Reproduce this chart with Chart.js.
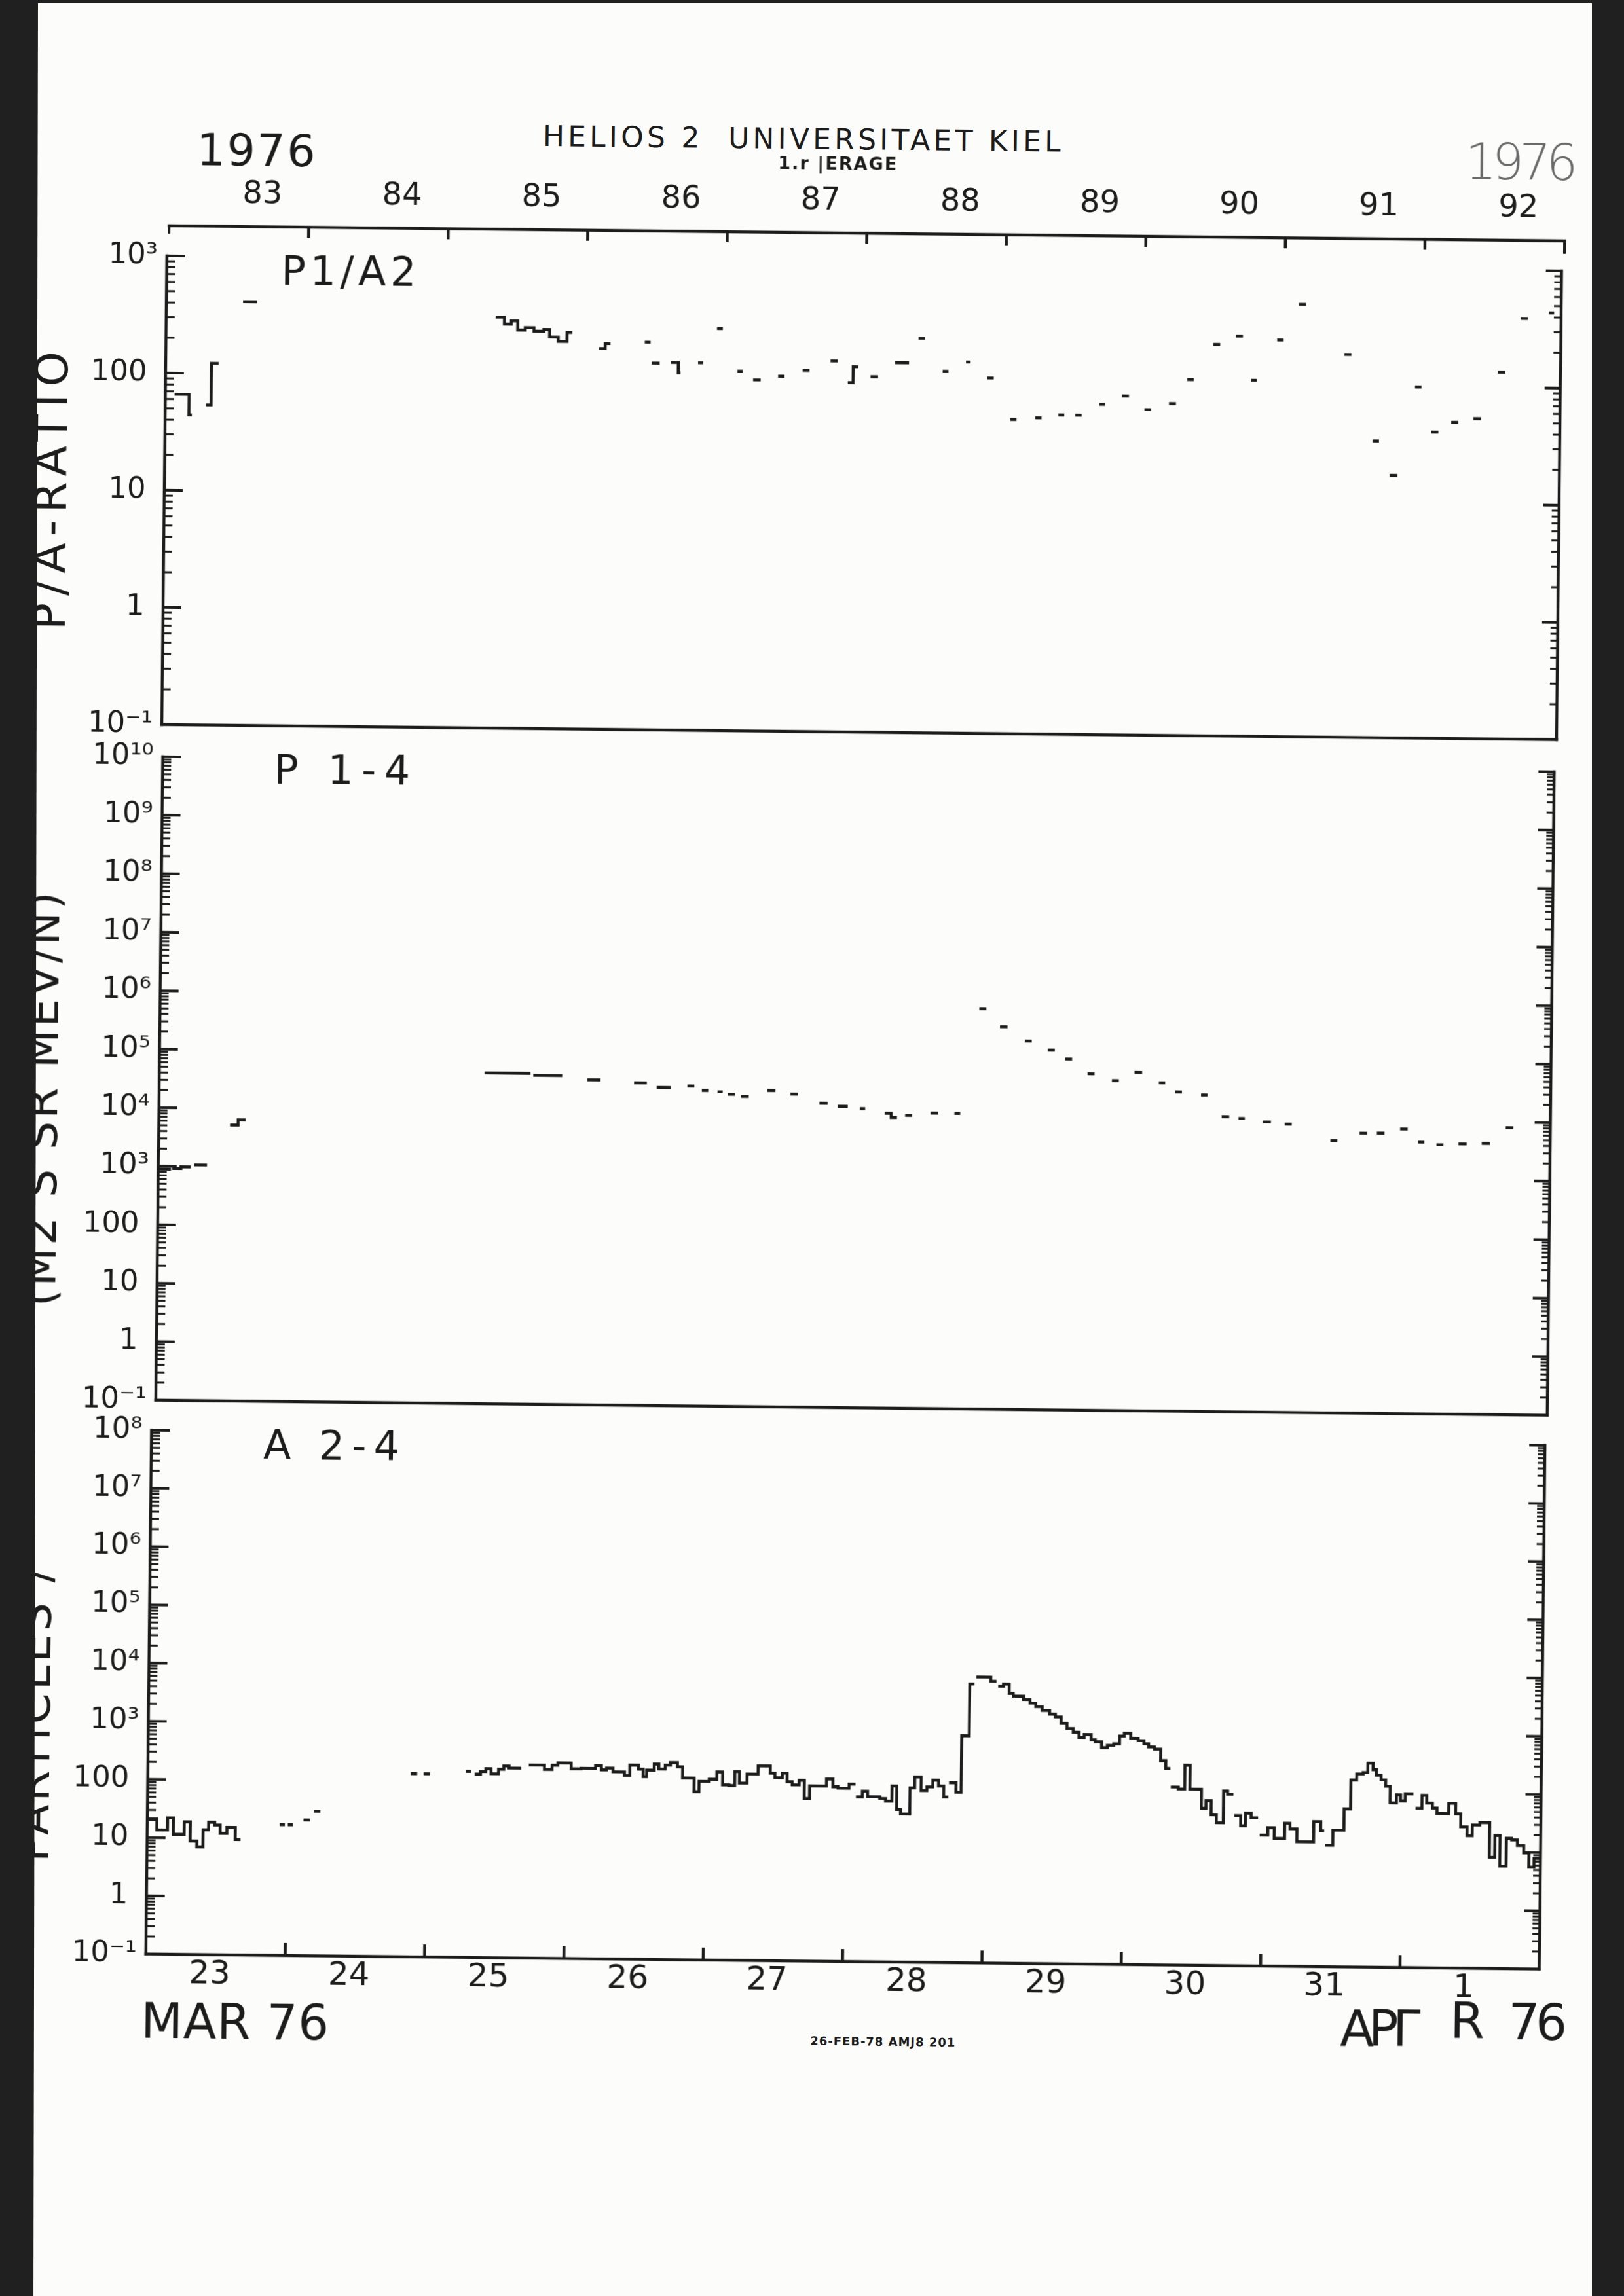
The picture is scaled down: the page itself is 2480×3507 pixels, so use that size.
<!DOCTYPE html>
<html>
<head>
<meta charset="utf-8">
<title>HELIOS 2 - Universitaet Kiel - March/April 1976</title>
<script src="https://cdn.jsdelivr.net/npm/chart.js@4.4.1/dist/chart.umd.min.js"></script>
<style>
  html, body { margin:0; padding:0; width:2480px; height:3507px; overflow:hidden; background:#fcfcfb; }
  #page { position:absolute; left:0; top:0; width:2480px; height:3507px; transform:rotate(0.62deg); transform-origin:0 0; }
  #page canvas { position:absolute; }
  .t { position:absolute; white-space:pre; color:#1c1c1c; }
  .edge { position:absolute; background:#202020; z-index:5; }
</style>
</head>
<body>
<div id="page"></div>
<div class="edge" style="left:0;top:0;width:58px;height:3507px;clip-path:polygon(0 0,100% 0,88% 100%,0 100%)"></div>
<div class="edge" style="left:2431px;top:0;width:49px;height:3507px"></div>
<div class="edge" style="left:0;top:0;width:2480px;height:5px"></div>
<script>
// ---------------- data (time in hours after 23 Mar 1976 00:00 UT) ----------------
const dayLabels = ['23','24','25','26','27','28','29','30','31','1'];
const doyLabels = ['83','84','85','86','87','88','89','90','91','92'];
const dayBoundaries = [24, 48, 72, 96, 120, 144, 168, 192, 216];

const p1Exps = [-1, 0, 1, 2, 3];
const p1TickLabels = ['10\u207B\u00B9', '1', '10', '100', '10\u00B3'];
const p2Exps = [-1, 0, 1, 2, 3, 4, 5, 6, 7, 8, 9, 10];
const p2TickLabels = ['10\u207B\u00B9', '1', '10', '100', '10\u00B3', '10\u2074', '10\u2075', '10\u2076', '10\u2077', '10\u2078', '10\u2079', '10\u00B9\u2070'];
const p3Exps = [-1, 0, 1, 2, 3, 4, 5, 6, 7, 8];
const p3TickLabels = ['10\u207B\u00B9', '1', '10', '100', '10\u00B3', '10\u2074', '10\u2075', '10\u2076', '10\u2077', '10\u2078'];

// P1/A2 ratio: value[i] holds from hour[i] to hour[i+1]; null = no data
const p1Hours = [1.6, 4.1, 4.6, 7.0, 7.9, 9.1, 13.2, 15.6, 56.7, 58.2,
  59.4, 60.5, 61.8, 63.3, 65.0, 66.0, 67.5, 69.0, 69.9, 74.5,
  75.6, 76.5, 82.4, 83.4, 83.6, 85.0, 86.9, 88.2, 88.6, 91.6,
  92.5, 94.8, 95.8, 98.4, 99.3, 101.1, 102.4, 105.4, 106.5, 109.6,
  110.8, 114.4, 115.6, 117.4, 118.3, 119.2, 121.3, 122.6, 125.5, 127.9,
  129.5, 130.6, 133.7, 134.7, 137.7, 138.5, 141.4, 142.5, 145.4, 146.5,
  149.7, 150.8, 153.7, 154.7, 156.6, 157.7, 160.7, 161.7, 164.6, 165.8,
  168.5, 169.6, 172.7, 173.9, 175.8, 176.9, 180.2, 181.4, 184.1, 185.3,
  186.8, 187.8, 191.2, 192.3, 194.9, 196.1, 202.8, 204.0, 207.8, 208.9,
  210.8, 212.1, 215.0, 216.1, 217.9, 219.1, 221.3, 222.5, 225.1, 226.4,
  229.2, 230.5, 233.1, 234.3, 237.9, 238.8];
const p1Ratio = [66, 44, null, 54, 122, null, 413, null, 321, 281,
  300, 251, 263, 246, 255, 220, 202, 242, null, 177,
  196, null, 203, null, 135, null, 137, 112, null, 137,
  null, 269, null, 117, null, 99, null, 107, null, 121,
  null, 146, null, 95.5, 131, null, 108, null, 143, null,
  232, null, 122, null, 147, null, 108, null, 48, null,
  50, null, 53, null, 53, null, 66, null, 78, null,
  60, null, 68, null, 109, null, 219, null, 259, null,
  109, null, 242, null, 490, null, 185, null, 34, null,
  17.4, null, 99, null, 41, null, 50, null, 54, null,
  135, null, 390, null, 438, null];

// P 1-4 flux
const p2Hours = [0, 2.2, 2.4, 3.9, 5.6, 6.2, 8.4, 12.3, 13.7, 15.0,
  56.1, 64.0, 64.5, 69.5, 73.8, 76.1, 81.9, 84.1, 85.8, 88.2,
  91.1, 92.3, 93.6, 94.7, 96.3, 97.2, 98.1, 99.3, 100.4, 101.7,
  104.9, 106.3, 108.9, 110.2, 113.9, 115.3, 117.1, 118.8, 120.9, 121.8,
  125.2, 126.3, 127.3, 128.7, 129.9, 133.1, 134.4, 137.2, 138.2, 141.3,
  142.5, 144.9, 146.2, 149.2, 150.4, 153.2, 154.4, 156.2, 157.4, 160.1,
  161.3, 164.3, 165.5, 168.2, 169.5, 172.4, 173.5, 175.2, 176.4, 179.7,
  180.8, 183.3, 184.6, 186.2, 187.3, 190.4, 191.8, 194.2, 195.4, 202.1,
  203.3, 207.1, 208.4, 210.1, 211.4, 214.1, 215.4, 217.2, 218.3, 220.4,
  221.6, 224.2, 225.6, 228.2, 229.6, 232.3, 233.6];
const p2Flux = [900, null, 920, 980, null, 1070, null, 5200, 6400, null,
  45000, null, 42000, null, 36000, null, 32700, null, 27500, null,
  29400, null, 24700, null, 23600, null, 21600, null, 20000, null,
  25400, null, 22300, null, 15800, null, 14100, null, 13000, null,
  10900, 9300, null, 10200, null, 11200, null, 11200, null, 702000,
  null, 348000, null, 200000, null, 141000, null, 100000, null, 56300,
  null, 43600, null, 60700, null, 40700, null, 28800, null, 25700,
  null, 11100, null, 10400, null, 9140, null, 8440, null, 4550,
  null, 6130, null, 6180, null, 7330, null, 4410, null, 4000,
  null, 4180, null, 4300, null, 8080, null];

// A 2-4 flux
const p3Hours = [0, 1.65, 3.5, 4.53, 6.37, 7.42, 8.57, 9.62, 10.57, 11.62, 12.56, 13.72, 15.18, 16.08,
  22.8, 23.7, 24.2, 25.1, 26.9, 28.0, 28.7, 29.8,
  45.3, 46.4, 47.5, 48.6, 54.8, 55.7,
  56.3, 57.3, 58.2, 59.1, 60.4, 61.3, 62.2, 64.3,
  65.6, 68.3, 69.6, 70.6, 72.9, 74.6, 77.1, 78.1, 79.0, 80.1, 82.1, 83.0, 84.5, 85.3, 85.9, 87.2, 88.0, 89.1, 90.0, 91.2,
  92.1, 94.1, 94.95, 96.7, 98.0, 99.0, 100.1, 101.1, 101.9, 103.2, 105.1, 107.2, 108.0, 109.3, 110.1, 111.0, 112.2, 113.1, 114.0, 116.9, 118.0, 118.9, 120.8, 121.9,
  122.0, 123.1, 124.0, 126.1, 127.1, 128.2, 129.0, 129.7, 131.3, 132.1, 133.2, 134.2, 135.2, 136.2, 137.1, 137.9,
  138.0, 139.2, 140.1, 141.4, 142.2, 142.5, 145.0, 146.0,
  146.3, 147.2, 148.2, 148.9, 150.7, 151.8, 152.8, 153.9, 155.2, 156.2, 157.2, 158.2, 159.3, 160.3, 161.2, 162.4, 163.1, 164.2, 165.2, 166.3, 167.3, 168.1, 169.2, 170.5, 171.5, 172.3, 173.3, 174.4, 175.3, 176.1,
  176.2, 177.5, 178.6, 179.5, 181.5, 182.3, 183.2, 184.1, 185.3, 186.0, 187.0,
  187.2, 188.3, 189.1, 190.1, 191.3,
  191.6, 193.0, 194.1, 195.9, 196.8, 198.0, 200.9, 202.1, 202.7,
  202.9, 204.2, 206.1, 207.2, 208.2, 209.3, 210.1, 211.0, 211.6, 212.4, 213.2, 214.0, 215.1, 215.8, 216.6, 218.0,
  218.4, 219.5, 220.3, 221.3, 222.1, 224.1, 225.3, 226.2, 227.3, 228.2, 229.5, 231.2, 232.1, 233.0, 234.1, 235.0, 236.0, 237.1, 238.0, 238.9, 240];
const p3Flux = [21, 13.6, 22, 11.5, 19, 8.9, 7.1, 14, 18.8, 17, 12.2, 15.5, 9.6, null,
  17.7, null, 17.7, null, 21.4, null, 30.5, null,
  140, null, 140, null, 158, null,
  142, 158, 177, 145, 174, 199, 183, null,
  209, 176, 209, 229, 183, 187, 210, 177, 190, 165, 143, 216, 186, 138, 180, 228, 188, 219, 243, 207,
  133, 78, 117, 128, 172, 103, 101, 176, 111, 160, 222, 167, 139, 168, 120, 106, 127, 62, 103, 136, 100, 95, 112, null,
  68, 85, 69, 64, 58, 106, 42, 35, 99, 153, 90, 104, 136, 108, 70, null,
  123, 85, 794, 6190, null, 8200, 6980, null,
  5740, 6280, 4330, 3920, 3440, 2990, 2600, 2250, 1950, 1750, 1350, 1110, 960, 787, 885, 720, 667, 531, 580, 618, 845, 940, 778, 710, 625, 555, 509, 323, 239, null,
  115, 106, 274, 106, 50, 68, 39, 28.5, 100, 88, null,
  38, 25.5, 42, 35, null,
  17.8, 24, 15.7, 28.8, 23.2, 13.9, 31, 21.6, null,
  12.3, 22.3, 52, 164, 208, 221, 321, 248, 200, 166, 130, 67, 93, 73, 97, null,
  55, 92, 68, 56, 45, 68, 45, 27, 19, 29, 32, 8.1, 19.4, 5.8, 17.4, 16.4, 13.2, 9.8, 5.6, 7.9, null];

// ---------------- layout / style ----------------
const INK = '#1c1c1c';
const FONT = '"DejaVu Sans", "Liberation Sans", Arial, sans-serif';
const page = document.getElementById('page');
const mctx = document.createElement('canvas').getContext('2d');

const GEO = {
  top: { L: 262, R: 2393, Y: 342 },
  p1:  { L: 259, R: 2389, T: 388,  B: 1104 },
  p2:  { L: 261, R: 2386, T: 1153, B: 2136 },
  p3:  { L: 255, R: 2383, T: 2182, B: 2982 }
};

function stepPoints(hours, vals) {
  const pts = [];
  for (let i = 0; i < vals.length; i++) {
    if (vals[i] == null) { pts.push({ x: hours[i], y: null }); continue; }
    pts.push({ x: hours[i], y: vals[i] });
    pts.push({ x: hours[i + 1], y: vals[i] });
  }
  return pts;
}

const framePlugin = {
  id: 'frame',
  afterDraw(chart, args, o) {
    const ctx = chart.ctx, a = chart.chartArea;
    const xs = chart.scales.x, ys = chart.scales.y;
    ctx.save();
    ctx.strokeStyle = INK;
    const line = (x1, y1, x2, y2, w, cap) => {
      ctx.lineWidth = w; ctx.lineCap = cap || 'butt';
      ctx.beginPath(); ctx.moveTo(x1, y1); ctx.lineTo(x2, y2); ctx.stroke();
    };
    const days = o.dayTicks || [];
    if (o.top) {
      line(a.left, a.top, a.right, a.top, 4.5, 'square');
      line(a.left, a.top, a.left, a.top + 12, 4);
      line(a.right, a.top, a.right, a.top + 22, 4);
      days.forEach(h => { const x = xs.getPixelForValue(h); line(x, a.top, x, a.top + 16, 4.5); });
    } else {
      line(a.left, a.top, a.left, a.bottom, 4.5, 'square');
      line(a.right, a.top, a.right, a.bottom, 4.5, 'square');
      line(a.left, a.bottom, a.right, a.bottom, 4.5, 'square');
      const exps = o.exps;
      const last = exps[exps.length - 1];
      for (let e = exps[0]; e <= last; e++) {
        const base = Math.pow(10, e);
        const y = ys.getPixelForValue(base);
        line(a.left, y, a.left + 28, y, 4);
        line(a.right, y, a.right - 24, y, 4);
        if (e < last) {
          for (let m = 2; m <= 9; m++) {
            const ym = ys.getPixelForValue(m * base);
            line(a.left, ym, a.left + 13, ym, 3);
            line(a.right, ym, a.right - 11, ym, 3);
          }
        }
      }
      days.forEach(h => { const x = xs.getPixelForValue(h); line(x, a.bottom, x, a.bottom - 19, 4.5); });
    }
    ctx.restore();
  }
};

function labelFor(exps, labels) {
  return (v) => {
    const e = Math.round(Math.log10(v));
    const i = exps.indexOf(e);
    if (i < 0) return '';
    const s = labels[i];
    return /^[0-9]+$/.test(s) ? s + '\u2008' : s;
  };
}

function addCanvas(left, top, w, h) {
  const cv = document.createElement('canvas');
  cv.width = w; cv.height = h;
  cv.style.left = left + 'px'; cv.style.top = top + 'px';
  cv.style.width = w + 'px'; cv.style.height = h + 'px';
  page.appendChild(cv);
  return cv;
}

function makePanel(g, hours, vals, exps, labels, withDays) {
  const AXW = 230, PT = 50, PR = 40, PB = withDays ? 10 : 50, XH = withDays ? 80 : 0;
  const left = g.L - AXW, top = g.T - PT;
  const w = g.R + PR - left, h = g.B + XH + PB - top;
  const cv = addCanvas(left, top, w, h);
  return new Chart(cv, {
    type: 'line',
    data: { datasets: [{
      data: stepPoints(hours, vals), borderColor: INK, borderWidth: 4.5,
      pointRadius: 0, tension: 0, spanGaps: false, fill: false, borderJoinStyle: 'miter'
    }] },
    options: {
      responsive: false, animation: false, devicePixelRatio: 1, events: [],
      layout: { padding: { left: 0, top: PT, right: PR, bottom: PB } },
      plugins: { legend: { display: false }, tooltip: { enabled: false },
                 frame: { exps: exps, dayTicks: withDays ? dayBoundaries : [] } },
      scales: {
        x: { type: 'linear', min: 0, max: 240, display: withDays, position: 'bottom',
             grid: { display: false, drawTicks: false }, border: { display: false },
             afterBuildTicks: s => { s.ticks = dayLabels.map((d, i) => ({ value: i * 24 + 11 })); },
             afterFit: s => { s.height = XH; },
             ticks: { autoSkip: false, maxRotation: 0, minRotation: 0, padding: 1, color: INK,
                      font: { family: FONT, size: 50 }, callback: v => dayLabels[Math.floor(v / 24)] } },
        y: { type: 'logarithmic', min: Math.pow(10, exps[0]), max: Math.pow(10, exps[exps.length - 1]),
             position: 'left', display: true,
             grid: { display: false, drawTicks: false }, border: { display: false },
             afterBuildTicks: s => { s.ticks = exps.map(e => ({ value: Math.pow(10, e) })); },
             afterFit: s => { s.width = AXW; },
             ticks: { autoSkip: false, padding: 14, color: INK,
                      font: { family: FONT, size: 45 }, callback: labelFor(exps, labels) } }
      }
    },
    plugins: [framePlugin]
  });
}

function makeTopAxis(g) {
  const PL = 40, PR = 40, PT = 10, PB = 10, AH = 90, CH = 10;
  const left = g.L - PL, top = g.Y - AH - PT;
  const w = g.R + PR - left, h = PT + AH + CH + PB;
  const cv = addCanvas(left, top, w, h);
  return new Chart(cv, {
    type: 'line',
    data: { datasets: [] },
    options: {
      responsive: false, animation: false, devicePixelRatio: 1, events: [],
      layout: { padding: { left: PL, right: PR, top: PT, bottom: PB } },
      plugins: { legend: { display: false }, tooltip: { enabled: false },
                 frame: { top: true, dayTicks: dayBoundaries } },
      scales: {
        x: { type: 'linear', min: 0, max: 240, position: 'top',
             grid: { display: false, drawTicks: false }, border: { display: false },
             afterBuildTicks: s => { s.ticks = doyLabels.map((d, i) => ({ value: i * 24 + 16 })); },
             afterFit: s => { s.height = AH; },
             ticks: { autoSkip: false, maxRotation: 0, minRotation: 0, padding: 20, color: INK,
                      font: { family: FONT, size: 48 }, callback: v => doyLabels[Math.floor(v / 24)] } },
        y: { display: false, min: 0, max: 1 }
      }
    },
    plugins: [framePlugin]
  });
}

// ---------------- page text ----------------
function addText(str, o) {
  const el = document.createElement('div');
  el.className = 't';
  el.textContent = str;
  const font = (o.weight || 'normal') + ' ' + o.size + 'px ' + (o.family || FONT);
  el.style.font = font;
  el.style.lineHeight = o.size + 'px';
  el.style.color = o.color || INK;
  mctx.font = font;
  const m = mctx.measureText(str);
  const n = Array.from(str).length;
  const ls = (o.width && n > 1) ? (o.width - m.width) / (n - 1) : 0;
  el.style.letterSpacing = ls + 'px';
  const asc = m.fontBoundingBoxAscent, desc = m.fontBoundingBoxDescent;
  const baseOff = (o.size - asc - desc) / 2 + asc;
  const boxW = m.width + ls * n;
  el.style.width = boxW + 'px';
  el.style.height = o.size + 'px';
  if (o.rotate) {
    const cxb = o.baseX - baseOff + o.size / 2;
    const cyb = o.cy - ls / 2;
    el.style.left = (cxb - boxW / 2) + 'px';
    el.style.top = (cyb - o.size / 2) + 'px';
    el.style.transform = 'rotate(-90deg)';
  } else {
    el.style.left = o.x + 'px';
    el.style.top = (o.baseline - baseOff) + 'px';
  }
  page.appendChild(el);
}

Chart.defaults.color = INK;
Chart.defaults.font.family = FONT;

makeTopAxis(GEO.top);
makePanel(GEO.p1, p1Hours, p1Ratio, p1Exps, p1TickLabels, false);
makePanel(GEO.p2, p2Hours, p2Flux, p2Exps, p2TickLabels, false);
makePanel(GEO.p3, p3Hours, p3Flux, p3Exps, p3TickLabels, true);

addText('1976', { x: 303, baseline: 249.5, size: 68, width: 181 });
addText('1976', { x: 2240, baseline: 249, size: 76, width: 172, weight: 300, color: '#6a6a6a' });
addText('HELIOS 2  UNIVERSITAET KIEL', { x: 831, baseline: 214, size: 44, width: 791 });
addText('1.r |ERAGE', { x: 1191, baseline: 245, size: 27, width: 181, weight: 'bold' });
addText('P1/A2', { x: 434, baseline: 430, size: 62, width: 206 });
addText('P 1-4', { x: 431, baseline: 1192, size: 62, width: 208 });
addText('A 2-4', { x: 426, baseline: 2224.5, size: 62, width: 208 });
addText('MAR 76', { x: 248.6, baseline: 3109.7, size: 74, width: 287 });
addText('AP\u0393', { x: 2079.7, baseline: 3102, size: 76, width: 123 });
addText('R', { x: 2247.6, baseline: 3089, size: 76 });
addText('76', { x: 2336.6, baseline: 3090, size: 76, width: 90 });
addText('26-FEB-78 AMJ8 201', { x: 1271, baseline: 3110.6, size: 18, width: 221, weight: 'bold' });
addText('P/A-RATIO', { rotate: true, baseX: 110, cy: 748.5, size: 68, width: 425 });
addText('(M2 S SR MEV/N)', { rotate: true, baseX: 106, cy: 1678, size: 68, width: 633 });
addText('PARTICLES /', { rotate: true, baseX: 105, cy: 2618, size: 68, width: 450 });
</script>
</body>
</html>
